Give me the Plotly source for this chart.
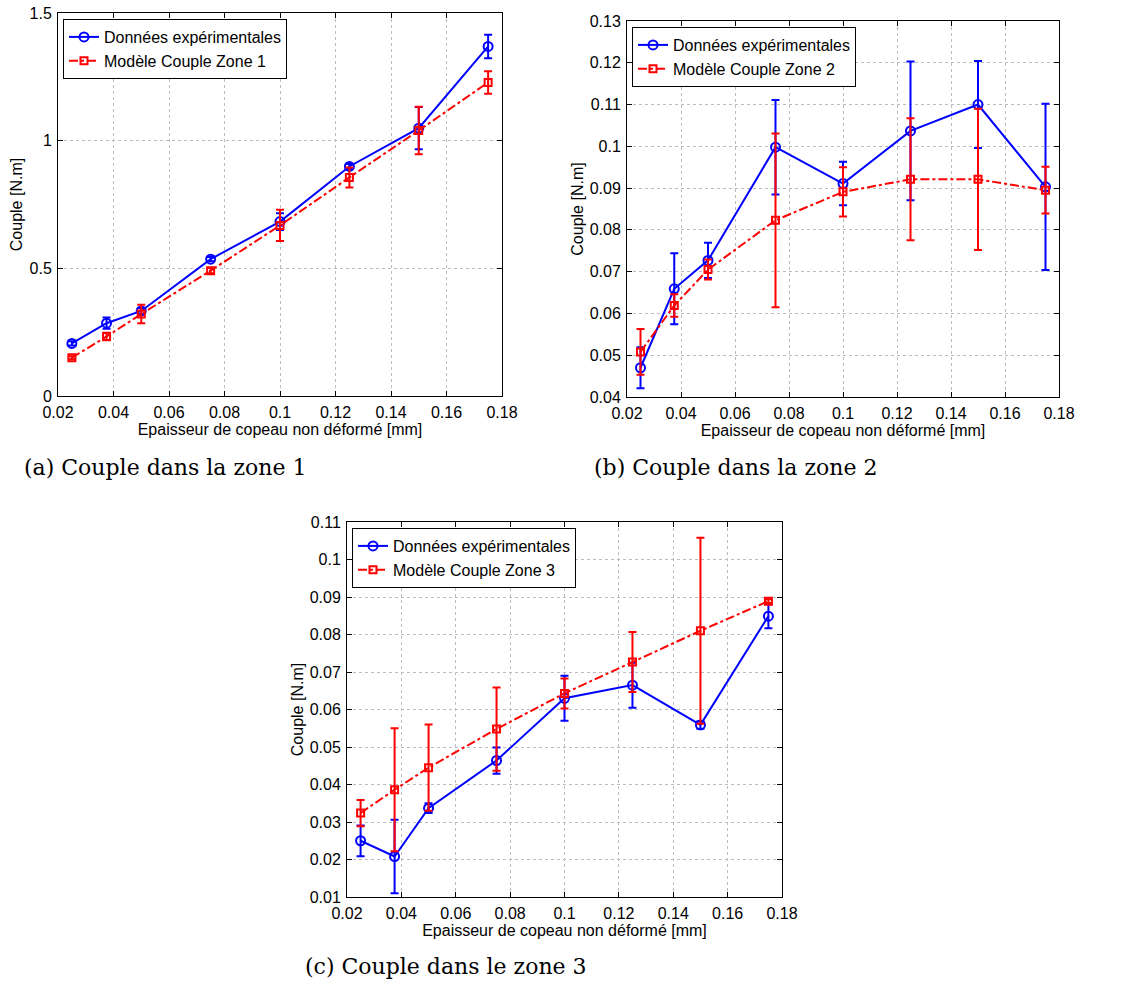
import plotly.graph_objects as go

x_vals = [0.025, 0.0375, 0.05, 0.075, 0.1, 0.125, 0.15, 0.175]

# Zone 1
exp1 = [0.206, 0.285, 0.333, 0.536, 0.683, 0.899, 1.049, 1.369]
exp1_err = [0.008, 0.022, 0.012, 0.008, 0.033, 0.010, 0.083, 0.046]
mod1 = [0.150, 0.233, 0.321, 0.491, 0.668, 0.856, 1.040, 1.228]
mod1_err = [0.006, 0.015, 0.036, 0.010, 0.061, 0.039, 0.093, 0.044]

# Zone 2
exp2 = [0.0470, 0.0659, 0.0727, 0.0998, 0.0911, 0.1037, 0.1100, 0.0903]
exp2_err = [0.0049, 0.0085, 0.0042, 0.0113, 0.0052, 0.0166, 0.0104, 0.0199]
mod2 = [0.0508, 0.0619, 0.0705, 0.0823, 0.0891, 0.0921, 0.0921, 0.0895]
mod2_err = [0.0055, 0.0027, 0.0024, 0.0208, 0.0059, 0.0146, 0.0169, 0.0056]

# Zone 3
exp3 = [0.0250, 0.0208, 0.0337, 0.0464, 0.0630, 0.0665, 0.0559, 0.0849]
exp3_err = [0.0041, 0.0098, 0.0013, 0.0035, 0.0060, 0.0060, 0.0010, 0.0032]
mod3 = [0.0324, 0.0386, 0.0445, 0.0548, 0.0643, 0.0727, 0.0810, 0.0889]
mod3_err = [0.0035, 0.0164, 0.0115, 0.0111, 0.0040, 0.0080, 0.0248, 0.0005]

exp_name = "Données expérimentales"
model_names = ["Modèle Couple Zone 1", "Modèle Couple Zone 2", "Modèle Couple Zone 3"]
x_title = "Epaisseur de copeau non déformé [mm]"
y_title = "Couple [N.m]"
captions = ["(a) Couple dans la zone 1", "(b) Couple dans la zone 2", "(c) Couple dans le zone 3"]

y_ranges = [[0, 1.5], [0.04, 0.13], [0.01, 0.11]]
y_dticks = [0.5, 0.01, 0.01]

BLUE = "#0000ff"
RED = "#ff0000"
W, H = 1123, 985

# plot boxes in window pixels: left, right, top, bottom
boxes = [(58, 502, 13, 396), (627, 1059, 21, 397), (347, 782, 522, 897)]


def px_x(p):
    return p / W


def px_y(p):
    return 1 - p / H


fig = go.Figure()
series = [(exp1, exp1_err, mod1, mod1_err), (exp2, exp2_err, mod2, mod2_err), (exp3, exp3_err, mod3, mod3_err)]

font_sans = "Liberation Sans, Arial, sans-serif"

for i, (e, ee, m, me) in enumerate(series):
    sfx = "" if i == 0 else str(i + 1)
    xa, ya = "x" + sfx, "y" + sfx
    leg = "legend" + sfx
    fig.add_trace(go.Scatter(
        x=x_vals, y=e, mode="lines+markers", name=exp_name,
        line=dict(color=BLUE, width=2),
        marker=dict(symbol="circle-open", size=9, color=BLUE, line=dict(width=2, color=BLUE)),
        error_y=dict(type="data", array=ee, visible=True, color=BLUE, thickness=2, width=4),
        xaxis=xa, yaxis=ya, legend=leg))
    fig.add_trace(go.Scatter(
        x=x_vals, y=m, mode="lines+markers", name=model_names[i],
        line=dict(color=RED, width=2, dash="dashdot"),
        marker=dict(symbol="square-open", size=7, color=RED, line=dict(width=2, color=RED)),
        error_y=dict(type="data", array=me, visible=True, color=RED, thickness=2, width=4),
        xaxis=xa, yaxis=ya, legend=leg))

layout = dict(
    width=W, height=H,
    margin=dict(l=0, r=0, t=0, b=0, autoexpand=False),
    paper_bgcolor="white", plot_bgcolor="white",
    font=dict(family=font_sans, size=16, color="black"),
    showlegend=True,
)

annotations = []
for i, (l, r, t, b) in enumerate(boxes):
    sfx = "" if i == 0 else str(i + 1)
    axis_common = dict(
        showline=True, linecolor="black", linewidth=1, mirror="allticks",
        ticks="inside", ticklen=5, tickcolor="black",
        showgrid=True, gridcolor="#bcbcbc", griddash="dot", gridwidth=1,
        zeroline=False, tickfont=dict(size=16, family=font_sans),
        automargin=False, ticklabeloverflow="allow",
    )
    layout["xaxis" + sfx] = dict(
        axis_common, domain=[px_x(l), px_x(r)], anchor="y" + sfx,
        range=[0.02, 0.18], tickmode="linear", tick0=0.02, dtick=0.02,
        tickformat="~g", ticklabelstandoff=2,
        title=dict(text=x_title, font=dict(size=16), standoff=0),
    )
    layout["yaxis" + sfx] = dict(
        axis_common, domain=[px_y(b), px_y(t)], anchor="x" + sfx,
        range=y_ranges[i], tickmode="linear", tick0=y_ranges[i][0], dtick=y_dticks[i],
        tickformat="~g", ticklabelstandoff=2,
        title=dict(text=y_title, font=dict(size=16), standoff=2),
    )
    layout["legend" + sfx] = dict(
        x=px_x(l + 5), y=px_y(t + 6), xanchor="left", yanchor="top",
        bgcolor="white", bordercolor="black", borderwidth=1,
        font=dict(size=16, family=font_sans), itemwidth=30,
        tracegroupgap=0,
    )

caption_pos = [(22, 467), (592, 467), (303, 966)]
for (cx, cy), txt in zip(caption_pos, captions):
    annotations.append(dict(
        text=txt, x=px_x(cx), y=px_y(cy), xref="paper", yref="paper",
        xanchor="left", yanchor="middle", showarrow=False,
        font=dict(family="DejaVu Serif, Liberation Serif, serif", size=22, color="black"),
    ))
layout["annotations"] = annotations

fig.update_layout(**layout)
fig.write_html("out.html", config={"displayModeBar": False},
               post_script="document.body.style.margin='0';")
